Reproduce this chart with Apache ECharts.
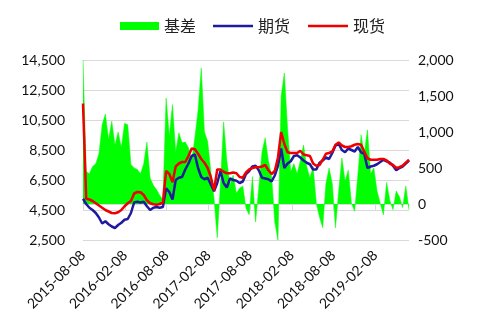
<!DOCTYPE html>
<html>
<head>
<meta charset="utf-8">
<script src="https://cdn.jsdelivr.net/npm/echarts@6/dist/echarts.min.js"></script>
<style>
  html, body { margin: 0; padding: 0; background: #fff; }
  #chart { width: 481px; height: 330px; }
</style>
</head>
<body>
<div id="chart"></div>
<script>
// Sampling grid: fortnightly observations starting 2015-08-08
const startDate = [2015, 7, 8];
const stepDays = 14;

// 现货 (spot price)
const spot = [
  11600, 5250, 5200, 5100, 4950, 4800, 4650, 4500, 4400, 4300,
  4280, 4350, 4500, 4750, 4950, 5100, 5600, 5700, 5680, 5500,
  5150, 4950, 4880, 4850, 4900, 5000, 7100, 6900, 6350, 7400,
  7600, 7700, 7700, 8100, 8600, 8550, 8250, 7900, 7650, 7300,
  6700, 5800, 7200, 7200, 7050, 6950, 6950, 7000, 6950, 6700,
  6650, 7000, 7200, 7300, 7350, 7350, 7400, 7500, 7150, 6900,
  7100, 8000, 9700, 8900, 8350, 8300, 8300, 8300, 8450, 8200,
  8150, 8100, 7600, 7450, 7500, 7850, 8250, 8300, 8400, 8850,
  9000, 8800, 8700, 8700, 8750, 8850, 8900, 8850, 8400, 7950,
  7850, 7850, 7850, 7900, 7900, 7800, 7600, 7500, 7300, 7350,
  7450, 7650, 7850
];

// 期货 (futures price)
const futures = [
  5250, 4900, 4650, 4500, 4300, 4000, 3600, 3750, 3550, 3400,
  3300, 3500, 3650, 3850, 3900, 4300, 5000, 5050, 5000, 5050,
  4750, 4500, 4650, 4700, 4650, 4700, 5950, 5700, 5200, 6500,
  6650, 6700, 7200, 7600, 8100, 8200, 7300, 6700, 6550, 6650,
  6200, 5750, 6300, 7100, 6300, 6000, 6600, 6500, 6450, 6300,
  6400, 6900, 7100, 7400, 7450, 7150, 6650, 6600, 6550, 6400,
  6800, 7450, 8600, 7300, 7600, 7750, 8100, 8150, 8000, 7800,
  7650, 7550, 7200, 7200, 7650, 7800, 8000, 7900, 8300, 8800,
  8900, 8500, 8350, 8600, 8500, 8400, 8700, 8350, 8250, 7300,
  7400, 7450, 7550, 7700, 7850, 7750, 7650, 7450, 7150, 7300,
  7400, 7600, 7800
];

// 基差 (basis, right axis)
const basis = [
  2000, 450, 420, 520, 560, 700, 1100, 1250, 900, 1150,
  820, 1000, 780, 1120, 1100, 550, 500, 480, 420, 560,
  860, 360, 260, 200, 120, 60, 1470, 950, 1380, 720,
  990, 850, 860, 780, 600, 920, 1300, 1890, 1000, 870,
  450, 80, -470, 280, 1140, 600, 270, 400, 150, 220,
  250, -60, -150, 380, -250, 230, 720, 920, 600, 400,
  -250, -500, 1500, 1820, 1050, 450, 560, 420, 600, 820,
  520, 360, 520, 10, -180, -330, 280, 500, 280, -330,
  180, 640, 320, 470, 10, -100, 400, 960, 700, 1030,
  420, 500, 180, 10, -150, 300, 50, -80, 180, 100,
  -50, 250, -80
];

// Dates shown under the x axis
const tickDates = [
  '2015-08-08', '2016-02-08', '2016-08-08', '2017-02-08',
  '2017-08-08', '2018-02-08', '2018-08-08', '2019-02-08'
];

const leftTicks = { min: 2500, max: 14500, interval: 2000 };
const rightTicks = { min: -500, max: 2000, interval: 500 };

function toTime(s) {
  const p = s.split('-').map(Number);
  return new Date(p[0], p[1] - 1, p[2]).getTime();
}
function pad(n) { return n < 10 ? '0' + n : '' + n; }
function fmt(t) {
  const d = new Date(t);
  return d.getFullYear() + '-' + pad(d.getMonth() + 1) + '-' + pad(d.getDate());
}

const times = spot.map((_, i) =>
  new Date(startDate[0], startDate[1], startDate[2] + i * stepDays).getTime());

const pair = arr => arr.map((v, i) => [times[i], v]);
const tickTimes = tickDates.map(toTime);
const thousands = v => v.toLocaleString('en-US');

const FONT = 'Lato, "Noto Sans CJK SC", sans-serif';
const legendText = { fontSize: 16, color: '#222', fontFamily: '"Noto Sans CJK SC", sans-serif' };

const chart = echarts.init(document.getElementById('chart'), null, { renderer: 'canvas' });
chart.setOption({
  animation: false,
  backgroundColor: '#ffffff',
  textStyle: { fontFamily: FONT },
  legend: [
    {
      top: 13,
      left: 115,
      itemWidth: 39,
      itemHeight: 8,
      textStyle: legendText,
      data: [{ name: '基差', icon: 'rect' }]
    },
    {
      top: 13,
      left: 208,
      itemWidth: 40,
      itemHeight: 2.5,
      itemGap: 18,
      textStyle: legendText,
      data: [{ name: '期货', icon: 'rect' }, { name: '现货', icon: 'rect' }]
    }
  ],
  grid: { left: 83, right: 72, top: 60, bottom: 90, containLabel: false },
  xAxis: {
    type: 'value',
    min: times[0],
    max: times[times.length - 1],
    axisLine: { show: true, lineStyle: { color: '#d9d9d9', width: 1 } },
    axisTick: { show: true, customValues: tickTimes, length: 6, lineStyle: { color: '#d9d9d9' } },
    axisLabel: {
      customValues: tickTimes,
      rotate: 45,
      margin: 13,
      fontSize: 14,
      color: '#111',
      fontFamily: FONT,
      formatter: v => fmt(v)
    },
    splitLine: { show: false }
  },
  yAxis: [
    {
      type: 'value',
      min: leftTicks.min,
      max: leftTicks.max,
      interval: leftTicks.interval,
      axisLine: { show: false },
      axisTick: { show: false },
      axisLabel: { fontSize: 14, color: '#111', margin: 18, formatter: thousands, fontFamily: FONT },
      splitLine: { show: true, lineStyle: { color: '#d9d9d9', width: 1 } }
    },
    {
      type: 'value',
      min: rightTicks.min,
      max: rightTicks.max,
      interval: rightTicks.interval,
      axisLine: { show: false },
      axisTick: { show: false },
      axisLabel: { fontSize: 14, color: '#111', margin: 9, formatter: thousands, fontFamily: FONT },
      splitLine: { show: false }
    }
  ],
  series: [
    {
      name: '基差',
      type: 'line',
      yAxisIndex: 1,
      data: pair(basis),
      symbol: 'none',
      color: '#00ff00',
      lineStyle: { width: 0.5, color: '#00ff00' },
      areaStyle: { color: '#00ff00', opacity: 1, origin: 0 }
    },
    {
      name: '期货',
      type: 'line',
      yAxisIndex: 0,
      data: pair(futures),
      symbol: 'none',
      color: '#1f1a9e',
      lineStyle: { width: 2.5, color: '#1f1a9e' }
    },
    {
      name: '现货',
      type: 'line',
      yAxisIndex: 0,
      data: pair(spot),
      symbol: 'none',
      color: '#ee0000',
      lineStyle: { width: 2.5, color: '#ee0000' }
    }
  ]
});
</script>
</body>
</html>
